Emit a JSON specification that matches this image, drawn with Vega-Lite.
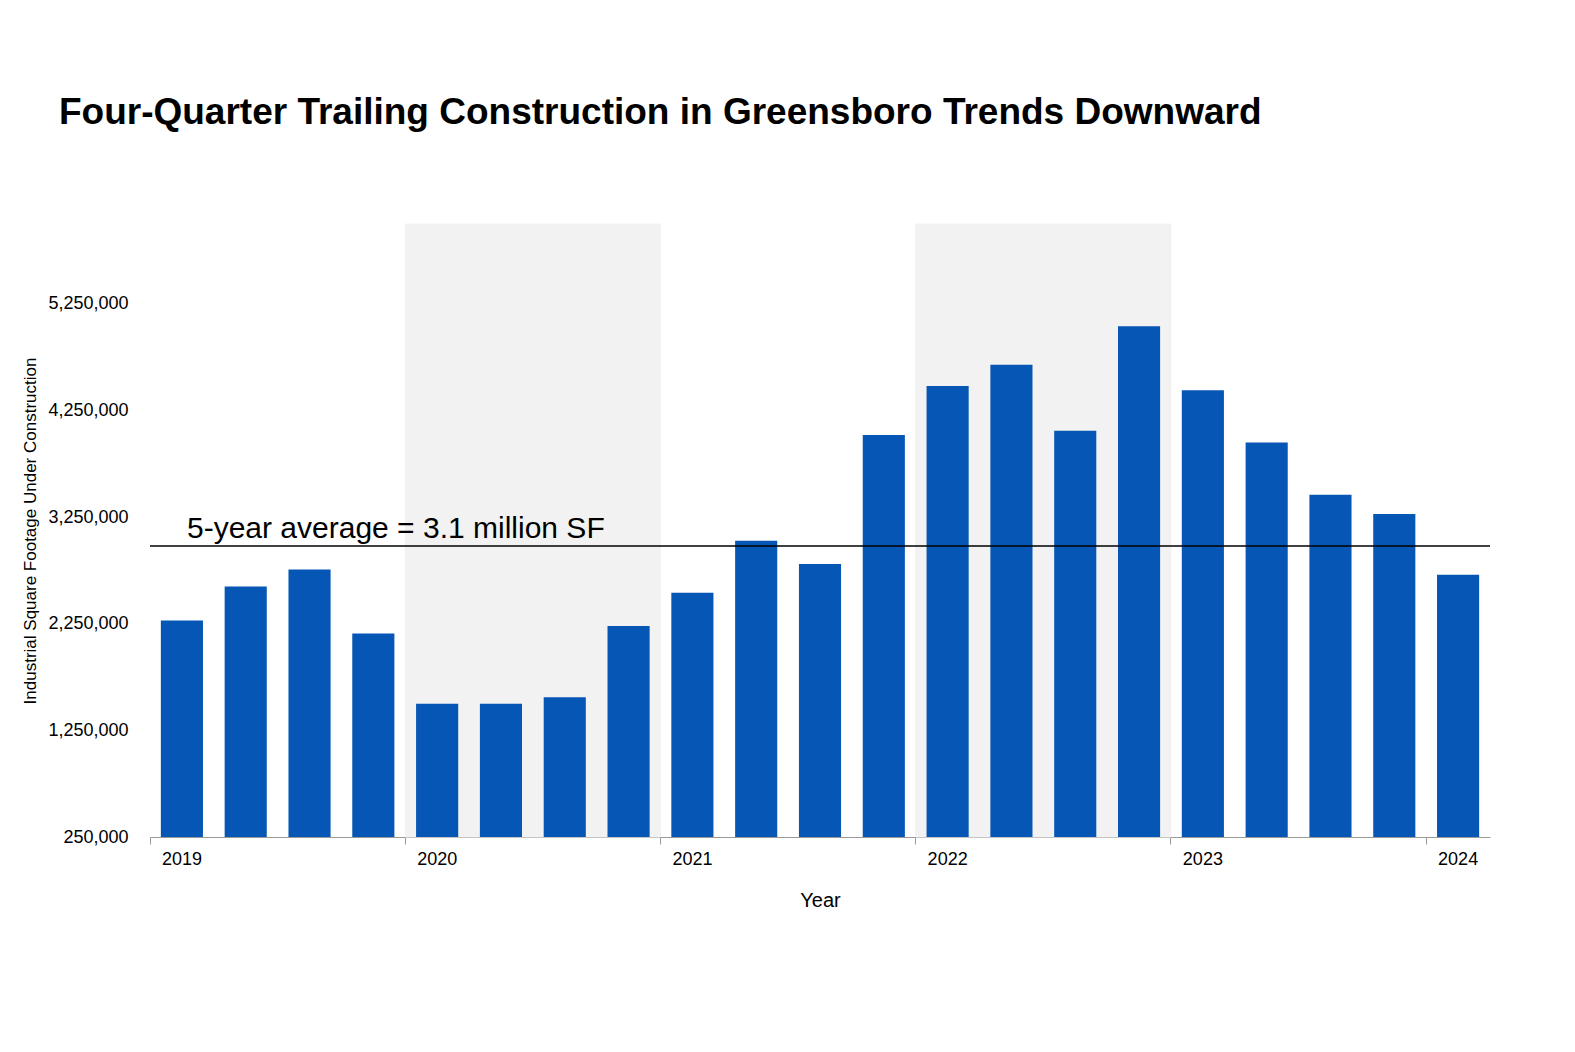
{
"$schema":"https://vega.github.io/schema/vega-lite/v6.json",
"width":1340,"height":613,
"autosize":{"type":"none"},
"padding":{"left":150,"top":224,"right":85,"bottom":215},
"background":"white",
"config":{"font":"Liberation Sans","view":{"stroke":null}},
"title":{"text":"Four-Quarter Trailing Construction in Greensboro Trends Downward","anchor":"start","dx":37,"offset":92,"fontSize":37,"fontWeight":"bold","color":"black","font":"Liberation Sans"},
"datasets":{
"bars":[
{"q":"2019-01-01","v":2280000},{"q":"2019-04-01","v":2600000},{"q":"2019-07-01","v":2760000},{"q":"2019-10-01","v":2160000},
{"q":"2020-01-01","v":1500000},{"q":"2020-04-01","v":1500000},{"q":"2020-07-01","v":1560000},{"q":"2020-10-01","v":2230000},
{"q":"2021-01-01","v":2540000},{"q":"2021-04-01","v":3030000},{"q":"2021-07-01","v":2810000},{"q":"2021-10-01","v":4020000},
{"q":"2022-01-01","v":4480000},{"q":"2022-04-01","v":4680000},{"q":"2022-07-01","v":4060000},{"q":"2022-10-01","v":5040000},
{"q":"2023-01-01","v":4440000},{"q":"2023-04-01","v":3950000},{"q":"2023-07-01","v":3460000},{"q":"2023-10-01","v":3280000},
{"q":"2024-01-01","v":2710000}],
"avg":[{"q":"2019-01-01","v":2980000,"label":"5-year average = 3.1 million SF"}]
},
"data":{"name":"bars"},
"layer":[
{"transform":[{"filter":"(datum.q >= '2020' && datum.q < '2021') || (datum.q >= '2022' && datum.q < '2023')"}],
 "mark":{"type":"bar","color":"#f2f2f2","stroke":"#f2f2f2","strokeWidth":1,"width":{"band":1}},
 "encoding":{
  "x":{"field":"q","type":"ordinal","title":"Year","scale":{"paddingInner":0,"paddingOuter":0},
   "axis":{"bandPosition":0,"labelAngle":0,"labelExpr":"indexof(datum.value,'-01-01')>0 ? substring(datum.value,0,4) : ''","tickOpacity":{"expr":"indexof(datum.value,'-01-01')>0 ? 1 : 0"},"labelAlign":"left","labelPadding":6,"labelFontSize":18,"labelColor":"black","titleFontSize":20,"titleFontWeight":"normal","titleColor":"black","titlePadding":22,"grid":false,"domainColor":"#999","tickColor":"#999","tickSize":7,"labelOffset":-20}},
  "y":{"datum":6000000,"type":"quantitative","title":"Industrial Square Footage Under Construction","scale":{"domain":[250000,6000000],"nice":false,"zero":false},
   "axis":{"values":[250000,1250000,2250000,3250000,4250000,5250000],"labelExpr":"format(datum.value, ',')","ticks":false,"domain":false,"labelFontSize":18,"labelColor":"black","labelPadding":22,"titleFontSize":17,"titleFontWeight":"normal","titleColor":"black","titlePadding":8,"gridColor":"#e6e6e6"}},
  "y2":{"datum":250000}}},
{"mark":{"type":"bar","color":"#0556b5","width":{"band":0.66}},
 "encoding":{
  "x":{"field":"q","type":"ordinal","title":"Year","scale":{"paddingInner":0,"paddingOuter":0},
   "axis":{"bandPosition":0,"labelAngle":0,"labelExpr":"indexof(datum.value,'-01-01')>0 ? substring(datum.value,0,4) : ''","tickOpacity":{"expr":"indexof(datum.value,'-01-01')>0 ? 1 : 0"},"labelAlign":"left","labelPadding":6,"labelFontSize":18,"labelColor":"black","titleFontSize":20,"titleFontWeight":"normal","titleColor":"black","titlePadding":22,"grid":false,"domainColor":"#999","tickColor":"#999","tickSize":7,"labelOffset":-20}},
  "y":{"field":"v","type":"quantitative","title":"Industrial Square Footage Under Construction","scale":{"domain":[250000,6000000],"nice":false,"zero":false},
   "axis":{"values":[250000,1250000,2250000,3250000,4250000,5250000],"labelExpr":"format(datum.value, ',')","ticks":false,"domain":false,"labelFontSize":18,"labelColor":"black","labelPadding":22,"titleFontSize":17,"titleFontWeight":"normal","titleColor":"black","titlePadding":8,"gridColor":"#e6e6e6"}},
  "y2":{"datum":250000}}},
{"data":{"name":"avg"},"mark":{"type":"rule","color":"black","strokeWidth":1.5},
 "encoding":{"y":{"field":"v","type":"quantitative","title":"Industrial Square Footage Under Construction","scale":{"domain":[250000,6000000],"nice":false,"zero":false},
   "axis":{"values":[250000,1250000,2250000,3250000,4250000,5250000],"labelExpr":"format(datum.value, ',')","ticks":false,"domain":false,"labelFontSize":18,"labelColor":"black","labelPadding":22,"titleFontSize":17,"titleFontWeight":"normal","titleColor":"black","titlePadding":8,"gridColor":"#e6e6e6"}}}},
{"data":{"name":"avg"},"mark":{"type":"text","align":"left","baseline":"bottom","dy":-2,"dx":37,"fontSize":30,"color":"black"},
 "encoding":{
  "x":{"field":"q","type":"ordinal","bandPosition":0,"title":"Year","scale":{"paddingInner":0,"paddingOuter":0},
   "axis":{"bandPosition":0,"labelAngle":0,"labelExpr":"indexof(datum.value,'-01-01')>0 ? substring(datum.value,0,4) : ''","tickOpacity":{"expr":"indexof(datum.value,'-01-01')>0 ? 1 : 0"},"labelAlign":"left","labelPadding":6,"labelFontSize":18,"labelColor":"black","titleFontSize":20,"titleFontWeight":"normal","titleColor":"black","titlePadding":22,"grid":false,"domainColor":"#999","tickColor":"#999","tickSize":7,"labelOffset":-20}},
  "y":{"field":"v","type":"quantitative","title":"Industrial Square Footage Under Construction","scale":{"domain":[250000,6000000],"nice":false,"zero":false},
   "axis":{"values":[250000,1250000,2250000,3250000,4250000,5250000],"labelExpr":"format(datum.value, ',')","ticks":false,"domain":false,"labelFontSize":18,"labelColor":"black","labelPadding":22,"titleFontSize":17,"titleFontWeight":"normal","titleColor":"black","titlePadding":8,"gridColor":"#e6e6e6"}},
  "text":{"field":"label"}}}
]
}
